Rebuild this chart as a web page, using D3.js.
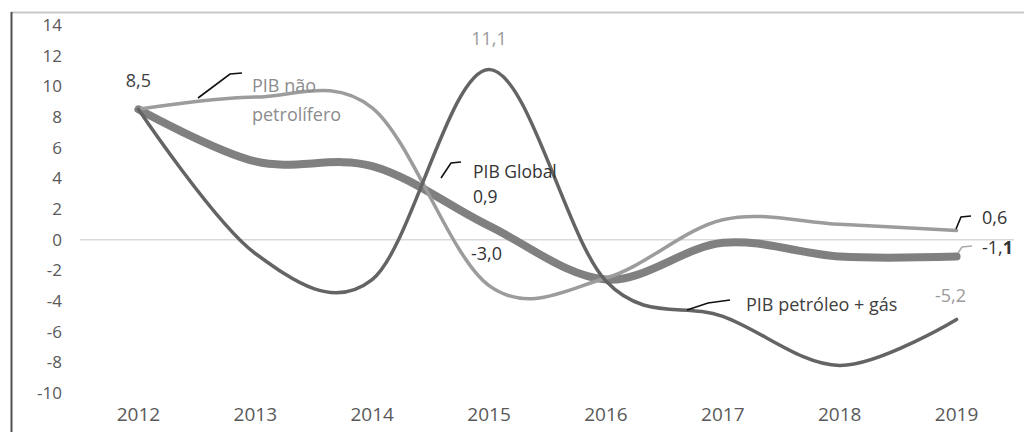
<!DOCTYPE html>
<html>
<head>
<meta charset="utf-8">
<script src="https://cdn.jsdelivr.net/npm/d3@7"></script>
<style>
  html, body { margin: 0; padding: 0; background: #fff; }
  svg { display: block; }
  text { font-family: "Open Sans", "Noto Sans", sans-serif; }
</style>
</head>
<body>
<svg id="chart" width="1024" height="432"></svg>
<script>
// ---- data ----
const years = ["2012", "2013", "2014", "2015", "2016", "2017", "2018", "2019"];
const pibGlobal = [8.5, 5.1, 4.8, 0.9, -2.6, -0.2, -1.1, -1.1];
const pibNaoPetrolifero = [8.5, 9.3, 8.6, -3.0, -2.5, 1.3, 1.0, 0.6];
const pibPetroleoGas = [8.5, -0.9, -2.6, 11.1, -2.7, -5.0, -8.2, -5.2];
const yTicks = [-10, -8, -6, -4, -2, 0, 2, 4, 6, 8, 10, 12, 14];

// ---- layout ----
const svg = d3.select("#chart");
const W = 1024, H = 432;
const x = d3.scaleBand().domain(years).range([80, 1015]);
const xc = d => x(d) + x.bandwidth() / 2;
const y = d3.scaleLinear().domain([-10, 14]).range([393, 25]);

// frame
svg.append("line").attr("x1", 11).attr("x2", W).attr("y1", 12.5).attr("y2", 12.5)
  .attr("stroke", "#c8c8c8").attr("stroke-width", 2);
svg.append("line").attr("x1", 11.5).attr("x2", 11.5).attr("y1", 12).attr("y2", H)
  .attr("stroke", "#505050").attr("stroke-width", 2);

// zero line
svg.append("line").attr("x1", 80).attr("x2", 1014).attr("y1", y(0)).attr("y2", y(0))
  .attr("stroke", "#d9d9d9").attr("stroke-width", 1.5);

// y axis (labels only)
const yAxis = d3.axisLeft(y).tickValues(yTicks).tickSize(0).tickPadding(0).tickFormat(d3.format("d"));
const gy = svg.append("g").attr("transform", "translate(62,0)").call(yAxis);
gy.select(".domain").remove();
gy.selectAll("text").attr("font-size", 17).attr("fill", "#595959")
  .attr("font-family", "'Open Sans', sans-serif").text(d => d < 0 ? "-" + Math.abs(d) : d);

// x axis (labels only)
const xAxis = d3.axisBottom(x).tickSize(0).tickPadding(0);
const gx = svg.append("g").attr("transform", "translate(0,407)").call(xAxis);
gx.select(".domain").remove();
gx.selectAll("text").attr("font-size", 19).attr("fill", "#595959")
  .attr("font-family", "'Open Sans', sans-serif");

// lines
const line = d3.line().x((d, i) => xc(years[i])).y(d => y(d)).curve(d3.curveCardinal.tension(0));
const series = [
  { values: pibGlobal, color: "#808080", width: 8 },
  { values: pibNaoPetrolifero, color: "#9c9c9c", width: 3.5 },
  { values: pibPetroleoGas, color: "#646464", width: 3.5 }
];
series.forEach(s => {
  svg.append("path").attr("d", line(s.values)).attr("fill", "none")
    .attr("stroke", s.color).attr("stroke-width", s.width)
    .attr("stroke-linecap", "round").attr("stroke-linejoin", "round");
});

// leader lines
const leader = (pts, color) => svg.append("path").attr("d", d3.line()(pts))
  .attr("fill", "none").attr("stroke", color).attr("stroke-width", 1.6);
leader([[198, 98], [230, 74], [242, 73]], "#111");
leader([[441, 178], [451, 163], [461, 162]], "#111");
leader([[687, 310], [708, 303], [730, 300]], "#111");
leader([[956, 229], [961, 217], [971, 216]], "#111");
leader([[958, 253], [962, 247], [972, 246]], "#aaaaaa");

// labels
const label = (txt, lx, ly, color, anchor = "start", size = 18) => svg.append("text")
  .attr("x", lx).attr("y", ly).attr("fill", color).attr("font-size", size)
  .attr("text-anchor", anchor).text(txt);
label("8,5", xc("2012"), 87, "#404040", "middle");
label("11,1", xc("2015"), 45, "#9a9a9a", "middle");
label("PIB não", 252, 92, "#8c8c8c");
label("petrolífero", 252, 121, "#8c8c8c");
label("PIB Global", 473, 178, "#333333", "start", 17.5);
label("0,9", 473, 203, "#333333", "start", 17.5);
label("-3,0", 471, 260, "#333333");
label("PIB petróleo + gás", 746, 311, "#404040");
label("-5,2", 935, 302, "#9a9a9a");
label("0,6", 982, 224, "#333333");
const t11 = label("-1,", 982, 254, "#333333");
t11.append("tspan").attr("font-weight", "bold").text("1");
</script>
</body>
</html>
